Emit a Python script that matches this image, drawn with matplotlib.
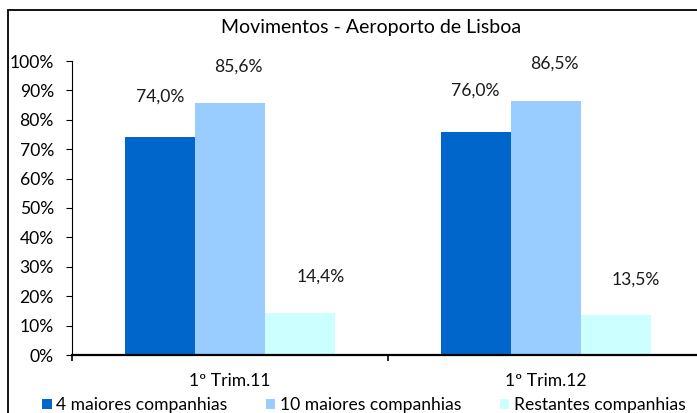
import numpy as np
import matplotlib
matplotlib.use("Agg")
import matplotlib.pyplot as plt
from matplotlib.patches import Rectangle
from matplotlib.ticker import PercentFormatter, FixedLocator

# data
groups = ["1º Trim.11", "1º Trim.12"]
series = ["4 maiores companhias", "10 maiores companhias", "Restantes companhias"]
top4 = [0.740, 0.760]
top10 = [0.856, 0.865]
others = [0.144, 0.135]

colors = ["#0066CC", "#99CCFF", "#CCFFFF"]
# label nudges in pixels (dx, dy) per series, as in the original excel chart
nudge = [(0, 41), (8, 37), (20, 36)]

plt.rcParams['font.family'] = ['Lato', 'DejaVu Sans']
W, H = 697, 413
FS = 12.6
fig = plt.figure(figsize=(W / 100, H / 100), dpi=100)

# outer chart frame (runs off the right and bottom edges)
fig.patches.append(Rectangle((8 / W, -0.2), 1.2, 1.2 - 10 / H, transform=fig.transFigure,
                             fill=False, lw=1.3, ec="black", clip_on=False))

ax = fig.add_axes([72 / W, 1 - 355 / H, (704 - 72) / W, 294 / H])

x = np.arange(len(groups))
w = 0.2225
bars = []
for i, vals in enumerate([top4, top10, others]):
    b = ax.bar(x + (i - 1) * w, vals, w, color=colors[i], label=series[i], zorder=2)
    bars.append(b)
    for rect, v in zip(b, vals):
        ax.annotate(("%.1f%%" % (v * 100)).replace(".", ","),
                    (rect.get_x() + rect.get_width() / 2, v),
                    xytext=(nudge[i][0] * 0.72, nudge[i][1] * 0.72), textcoords="offset points",
                    ha="center", va="center", fontsize=FS, color="#1a1a1a")

ax.set_xlim(-0.5, 1.5)
ax.set_ylim(0, 1)
ax.set_yticks(np.arange(0, 1.01, 0.1))
ax.yaxis.set_major_formatter(PercentFormatter(1.0, decimals=0))
ax.set_xticks(x)
ax.set_xticklabels(groups)
ax.xaxis.set_minor_locator(FixedLocator([-0.5, 0.5, 1.5]))
ax.tick_params(axis="x", which="major", length=0, pad=13, labelsize=FS)
ax.tick_params(axis="x", which="minor", length=4, width=1.2, direction="out")
ax.tick_params(axis="y", length=4, width=0.8, pad=9, labelsize=FS)

for s in ["top", "right"]:
    ax.spines[s].set_visible(False)
ax.spines["bottom"].set_linewidth(1.6)
ax.spines["left"].set_linewidth(0.8)

fig.text(371 / W, 1 - 28 / H, "Movimentos - Aeroporto de Lisboa", ha="center", va="center", fontsize=14)

fig.legend(handles=bars, labels=series, loc="center left", bbox_to_anchor=(42 / W, 1 - 405 / H),
           ncol=3, frameon=False, fontsize=FS, handlelength=0.55, handleheight=0.55,
           handletextpad=0.25, columnspacing=2.2, borderpad=0, borderaxespad=0)

fig.savefig("out.png", dpi=100)
